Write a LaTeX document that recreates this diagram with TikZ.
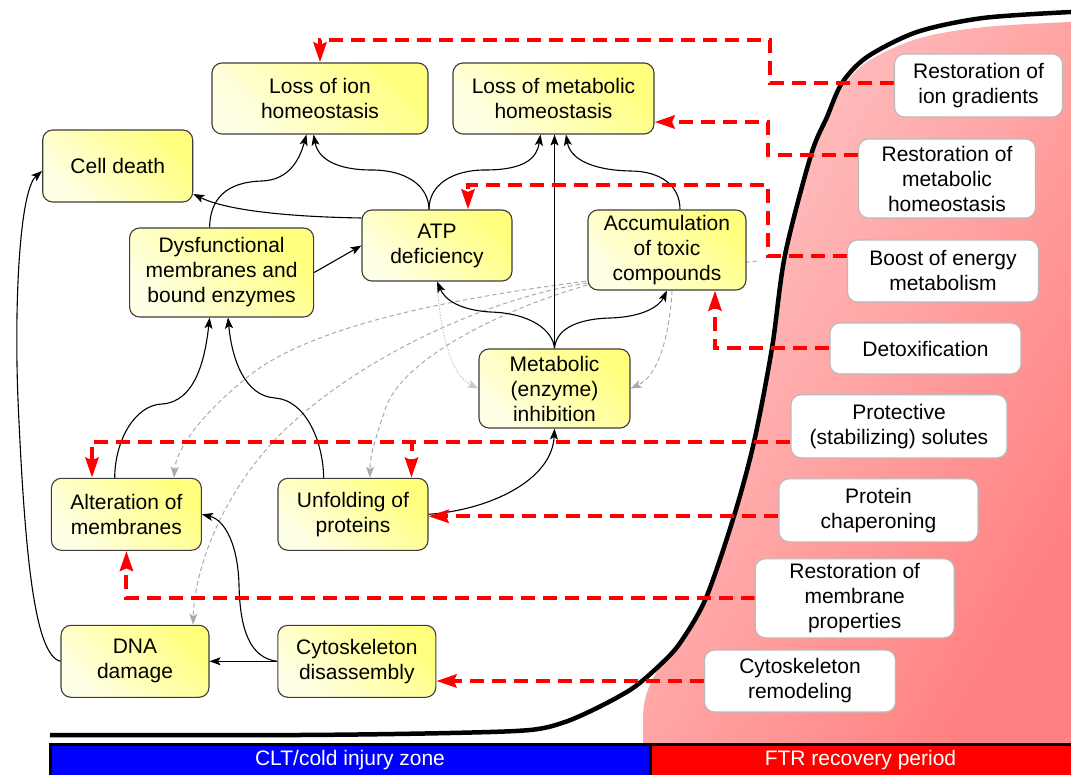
\documentclass[tikz,border=0pt]{standalone}
\usepackage{fontspec}
\setmainfont{Liberation Sans}
\usetikzlibrary{arrows.meta,calc}
\pgfdeclarelayer{bg}
\pgfdeclarelayer{edges}
\pgfsetlayers{bg,edges,main}
\definecolor{yL}{RGB}{255,255,230}
\definecolor{yD}{RGB}{255,255,125}
\definecolor{pinkL}{RGB}{255,200,200}
\definecolor{pinkD}{RGB}{255,128,128}
\definecolor{gline}{RGB}{170,170,170}
\definecolor{gdotc}{RGB}{200,200,200}
\definecolor{nborder}{RGB}{60,60,60}
\definecolor{wborder}{RGB}{185,185,185}
\definecolor{pureblue}{RGB}{0,0,255}
\definecolor{purered}{RGB}{255,0,0}
\begin{document}
\begin{tikzpicture}[x=1pt,y=-1pt,
  txt/.style={font=\fontsize{21}{25}\selectfont, align=center, inner sep=0pt},
  ynode/.style={txt, draw=nborder, line width=1.1pt, rounded corners=10pt,
    top color=yL, bottom color=yD, shading angle=135},
  wnode/.style={txt, draw=wborder, line width=1.1pt, rounded corners=10pt, fill=white},
  blk/.style={line width=1.1pt, -{Stealth[length=11pt,width=8pt,inset=2.5pt]}},
  gdash/.style={gline, line width=1pt, dash pattern=on 4.5pt off 3pt,
    -{Stealth[length=11pt,width=8pt,inset=2.5pt]}},
  gdot/.style={gdotc, line width=1pt, dash pattern=on 1.5pt off 1.5pt,
    -{Stealth[length=11pt,width=8pt,inset=2.5pt]}},
  rdash/.style={purered, line width=4pt, dash pattern=on 14pt off 8pt,
    -{Stealth[length=20pt,width=13pt,inset=2.5pt]}}
]
\useasboundingbox (0,0) rectangle (1071,775);

% ---------- yellow nodes ----------
\node[ynode, minimum width=216pt, minimum height=71pt] (lossion) at (320,98.5) {Loss of ion\\homeostasis};
\node[ynode, minimum width=201pt, minimum height=71pt] (lossmet) at (553.5,98.5) {Loss of metabolic\\homeostasis};
\node[ynode, minimum width=150pt, minimum height=72pt] (celldeath) at (117.7,166) {Cell death};
\node[ynode, minimum width=150pt, minimum height=71pt] (atp) at (437,245.5) {ATP\\deficiency};
\node[ynode, minimum width=184pt, minimum height=89pt] (dysf) at (221.6,272.5) {Dysfunctional\\membranes and\\bound enzymes};
\node[ynode, minimum width=158pt, minimum height=80pt] (accum) at (667,250) {Accumulation\\of toxic\\compounds};
\node[ynode, minimum width=151pt, minimum height=79pt] (metinh) at (554.5,388.5) {Metabolic\\(enzyme)\\inhibition};
\node[ynode, minimum width=150pt, minimum height=72pt] (alter) at (126.4,514.3) {Alteration of\\membranes};
\node[ynode, minimum width=150pt, minimum height=72pt] (unfold) at (353,514.3) {Unfolding of\\proteins};
\node[ynode, minimum width=148pt, minimum height=72pt] (dna) at (135,661.3) {DNA\\damage};
\node[ynode, minimum width=158pt, minimum height=72pt] (cyto) at (356.8,661.3) {Cytoskeleton\\disassembly};

% ---------- white nodes ----------
\node[wnode, minimum width=168pt, minimum height=63pt] (rion) at (978.5,85.5) {Restoration of\\ion gradients};
\node[wnode, minimum width=177pt, minimum height=79pt] (rmet) at (947,178.5) {Restoration of\\metabolic\\homeostasis};
\node[wnode, minimum width=191pt, minimum height=62pt] (boost) at (943,271) {Boost of energy\\metabolism};
\node[wnode, minimum width=191pt, minimum height=51pt] (detox) at (925.5,348.5) {Detoxification};
\node[wnode, minimum width=216pt, minimum height=63pt] (prot) at (899,426.3) {Protective\\(stabilizing) solutes};
\node[wnode, minimum width=199pt, minimum height=63pt] (chap) at (878.5,510.3) {Protein\\chaperoning};
\node[wnode, minimum width=199pt, minimum height=79pt] (rmemb) at (854.7,598.3) {Restoration of\\membrane\\properties};
\node[wnode, minimum width=191pt, minimum height=62pt] (cremod) at (800,681) {Cytoskeleton\\remodeling};

% ---------- bottom bar labels ----------
\node[txt, text=white] (cltlabel) at (350,760) {CLT/cold injury zone};
\node[txt, text=white] (ftrlabel) at (860.5,760) {FTR recovery period};

% ---------- background: recovery region, curve, bar ----------
\begin{pgfonlayer}{bg}
\shade[top color=pinkL, bottom color=pinkD, shading angle=60]
  (1071,743) -- (643,743) -- (643,718) .. controls (643,700) and (648,684) .. (662,664)
  -- plot[smooth, tension=0.55] coordinates {(662,664) (681,643) (707,598) (735,516) (755,442) (773,348) (786,256) (812,156) (829,117) (845,84) (870,60) (920,38) (985,27) (1071,22)}
  -- cycle;
\draw[line width=4.5pt] plot[smooth, tension=0.5] coordinates {(50,735) (300,735) (450,733) (530,730) (565,722) (599,707) (633,688) (660,665) (680,643) (706,598) (734,516) (754,442) (772,348) (785,255) (811,155) (827,117) (842,83) (867,57) (917,32) (983,18) (1071,12)};
\draw[line width=3pt, fill=pureblue] (50,744.5) rectangle (650,777);
\draw[line width=3pt, fill=purered] (650,744.5) rectangle (1073,777);
\end{pgfonlayer}

% ---------- connectors ----------
\begin{pgfonlayer}{edges}
\coordinate (stub) at (757,261);
% gray dashed influences
\draw[gdash] (stub) -- ($(accum.west)+(0,31)$) .. controls (480,295) and (320,320) .. (250,375)
  .. controls (200,415) and (176,450) .. ($(alter.north)+(47.6,0)$);
\draw[gdash] ($(accum.west)+(0,33)$) .. controls (480,300) and (360,360) .. (290,425)
  .. controls (230,480) and (195,560) .. ($(dna.north)+(58,0)$);
\draw[gdash] ($(accum.west)+(0,35)$) .. controls (500,310) and (400,360) .. (385,410)
  .. controls (375,440) and (370,455) .. ($(unfold.north)+(17,0)$);
\draw[gdot] (atp.south) .. controls (440,330) and (450,375) .. (metinh.west);
\draw[gdash] ($(accum.south)+(5,0)$) .. controls (670,330) and (660,375) .. (metinh.east);

% black causal links
\draw[blk] ($(dysf.north)+(-12,0)$) .. controls (210,200) and (225,182) .. (262,181)
  .. controls (290,180) and (300,158) .. ($(lossion.south)+(-13.5,0)$);
\draw[blk] ($(atp.north)+(-8,0)$) .. controls (428.7,185) and (405,170) .. (372,170)
  .. controls (335,170) and (318,158) .. ($(lossion.south)+(-6.5,0)$);
\draw[blk] ($(atp.north)+(-8,0)$) .. controls (429,185) and (452,170) .. (485,170)
  .. controls (525,170) and (537,158) .. ($(lossmet.south)+(-13,0)$);
\draw[blk] (metinh.north) -- (metinh.north |- lossmet.south);
\draw[blk] ($(accum.north)+(13,0)$) .. controls (680,185) and (660,171) .. (630,171)
  .. controls (590,170) and (570,158) .. ($(lossmet.south)+(12.5,0)$);
\draw[blk] ($(atp.west)+(0,-27.5)$) .. controls (300,217) and (230,212) .. ($(celldeath.east)+(0,28)$);
\draw[blk] (dysf.east) -- (atp.west);
\draw[blk] (metinh.north) .. controls (553,330) and (530,313) .. (490,312)
  .. controls (460,310) and (445,300) .. (atp.south);
\draw[blk] (metinh.north) .. controls (556,330) and (575,319) .. (610,318)
  .. controls (645,317) and (660,305) .. (accum.south);
\draw[blk] ($(alter.north)+(-11.7,0)$) .. controls (115,440) and (135,405) .. (162,404)
  .. controls (195,402) and (205,360) .. ($(dysf.south)+(-12,0)$);
\draw[blk] ($(unfold.north)+(-29.3,0)$) .. controls (323,440) and (305,400) .. (275,398)
  .. controls (245,396) and (232,360) .. ($(dysf.south)+(6.4,0)$);
\draw[blk] (unfold.east) .. controls (490,510) and (552,480) .. (metinh.south);
\draw[blk] (cyto.west) -- (dna.east);
\draw[blk] (cyto.west) .. controls (250,658) and (240,630) .. (239,585)
  .. controls (238,545) and (225,520) .. (alter.east);
\draw[blk] (dna.west) .. controls (35,655) and (25,560) .. (18,400)
  .. controls (14,300) and (20,190) .. ($(celldeath.west)+(0,5)$);

% red recovery links
\draw[rdash] ([yshift=2pt]rion.west) -| (770,40) -| (lossion.north);
\draw[rdash] ([yshift=23.5pt]rmet.west) -| (768,122) -- ([yshift=-23.5pt]lossmet.east);
\draw[rdash] ([yshift=15pt]boost.west) -| (768,185) -| ([xshift=31pt]atp.north);
\draw[rdash] (detox.west) -| ([xshift=48pt]accum.south);
\coordinate (r5) at ([yshift=-15.4pt]prot.west);
\draw[rdash] (r5) -| ([xshift=-34.4pt]alter.north);
\draw[rdash] (r5) -| ([xshift=58.5pt]unfold.north);
\draw[rdash] ([yshift=-6pt]chap.west) -- ([yshift=-2pt]unfold.east);
\draw[rdash] (rmemb.west) -| (alter.south);
\draw[rdash] (cremod.west) -- ([yshift=-19.7pt]cyto.east);
\end{pgfonlayer}
\end{tikzpicture}
\end{document}
